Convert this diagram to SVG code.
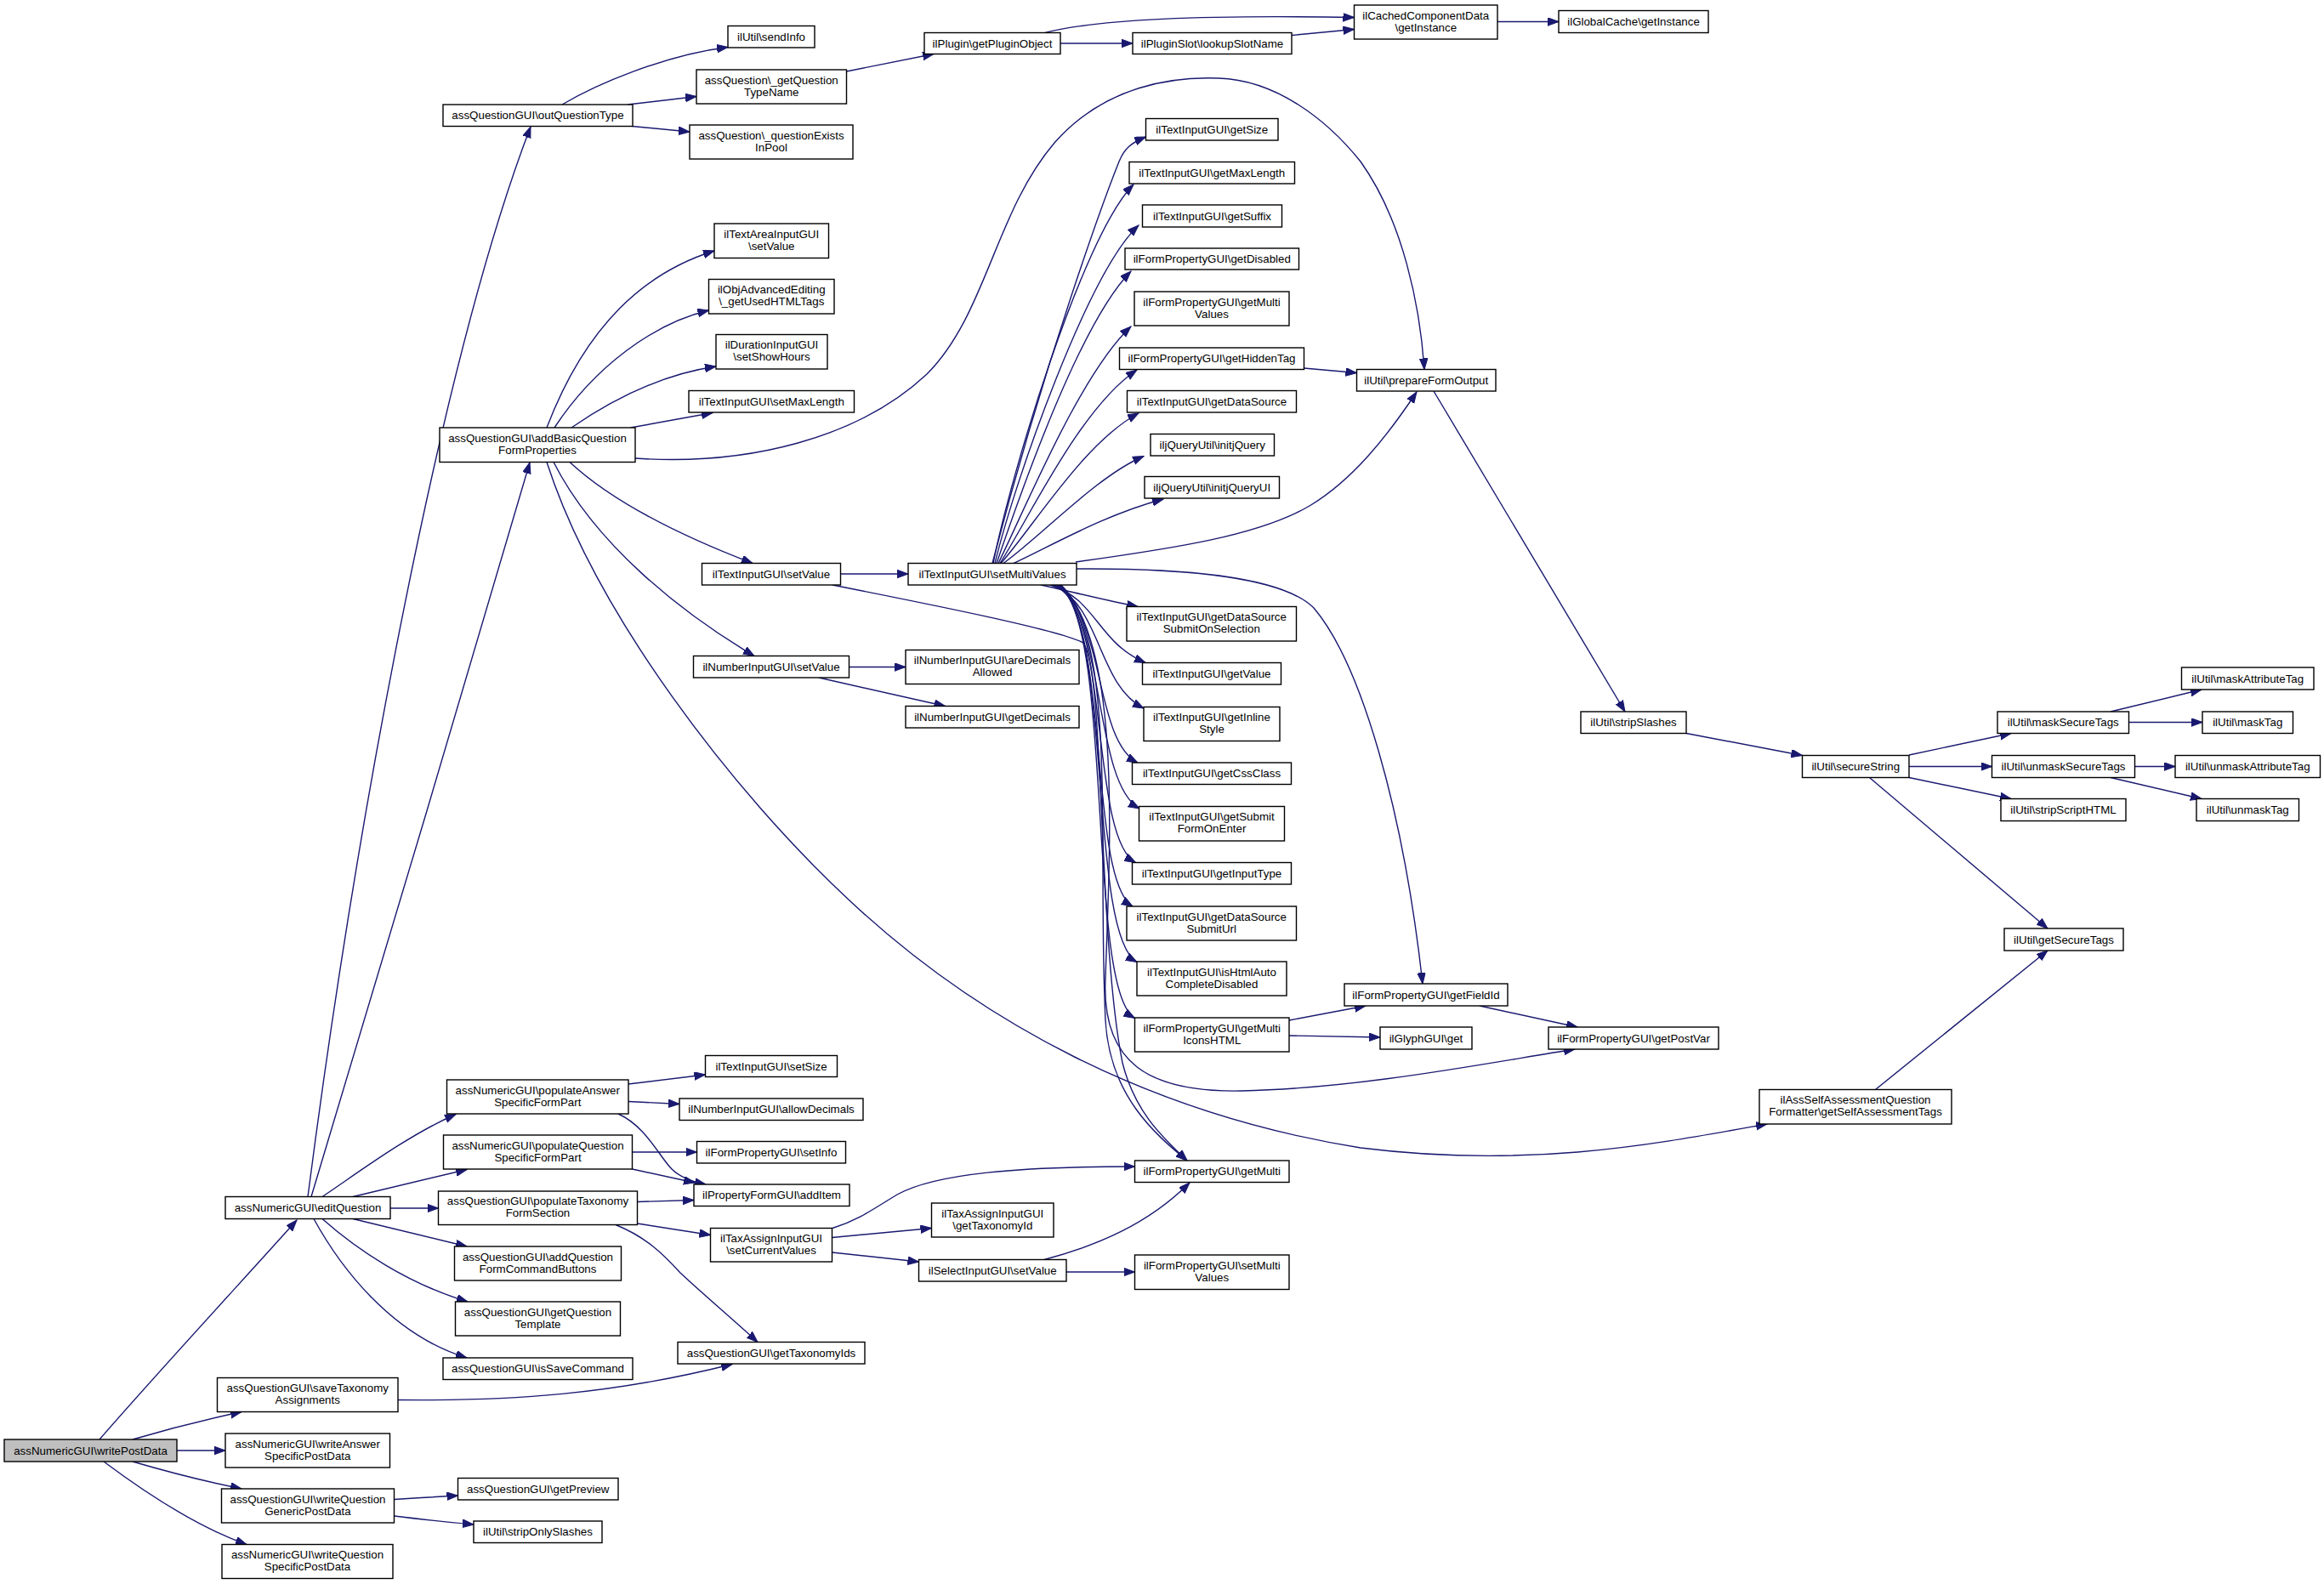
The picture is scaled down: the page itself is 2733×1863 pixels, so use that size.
<svg xmlns="http://www.w3.org/2000/svg" width="2733" height="1863" viewBox="0 0 2733 1863">
<style>
.node rect{fill:#fff;stroke:#000;stroke-width:1.4}
.root rect{fill:#bfbfbf}
.node text{font-family:"Liberation Sans",Arial,Helvetica,sans-serif;font-size:13.33px;text-anchor:middle;fill:#000}
#edges path{fill:none;stroke:#191970;stroke-width:1.4;marker-end:url(#arr)}
</style>
<defs>
<marker id="arr" markerUnits="userSpaceOnUse" markerWidth="15" markerHeight="11" refX="13" refY="4.8" orient="auto">
<path d="M0,0 L13,4.8 L0,9.6 z" fill="#191970" stroke="#191970" stroke-width="1"/>
</marker>
</defs>
<rect x="0" y="0" width="2733" height="1863" fill="#fff"/>
<g id="edges">
<path d="M117,1693 C180,1620 300,1490 349,1435"/>
<path d="M156,1693 C190,1683 240,1670 284,1660.5"/>
<path d="M208,1706 L265,1706"/>
<path d="M156,1719 C190,1729 240,1742 284,1751"/>
<path d="M122,1719 C170,1755 230,1795 290,1816.5"/>
<path d="M463.5,1763.5 C490,1762 510,1760.5 538.5,1759"/>
<path d="M463.5,1783 C495,1787 525,1790 557,1793"/>
<path d="M468,1646.5 C600,1648 720,1640 861,1604.5"/>
<path d="M362,1407.5 C420,960 520,420 624,149"/>
<path d="M366,1407.5 C420,1230 560,760 623,544"/>
<path d="M379,1407.5 C420,1380 480,1335 536,1310.5"/>
<path d="M415,1407.5 L549,1375.5"/>
<path d="M459,1421 L515.5,1421"/>
<path d="M415,1433.5 L549,1466"/>
<path d="M379,1433.5 C420,1470 480,1510 550,1531"/>
<path d="M369,1433.5 C400,1490 460,1570 549,1597"/>
<path d="M643,503 C690,380 760,320 840,295"/>
<path d="M652,503 C700,430 770,380 833.5,365"/>
<path d="M672,503 C720,470 780,440 842,431"/>
<path d="M741.5,503 L838,485.5"/>
<path d="M747,539 C880,548 1010,515 1090,440 C1160,370 1170,250 1240,168 C1300,100 1380,90 1433,92 C1500,94 1560,140 1600,190 C1650,260 1670,360 1675,434.5"/>
<path d="M670,543.5 C720,590 800,630 885,662.5"/>
<path d="M651,543.5 C700,640 800,720 887,771.5"/>
<path d="M643,543.5 C700,720 860,930 1000,1060 C1150,1200 1350,1310 1600,1350 C1800,1375 1950,1345 2078,1322"/>
<path d="M661,123 C700,100 780,65 856,55.5"/>
<path d="M738,123 L819,113.5"/>
<path d="M743.5,148.5 L811,155"/>
<path d="M995.5,84 L1098,63.5"/>
<path d="M1247,51 L1332,51"/>
<path d="M1229,38.5 C1300,20 1450,18 1592.5,20.5"/>
<path d="M1519,41.5 L1592.5,34.5"/>
<path d="M1761,25.5 L1833,25.5"/>
<path d="M988.5,675 L1068,675"/>
<path d="M979,688 C1100,712 1240,740 1272,755 C1300,770 1290,1100 1320,1250 C1335,1310 1370,1340 1396,1365"/>
<path d="M998.5,784.5 L1065,784.5"/>
<path d="M963,797 L1111.5,830.5"/>
<path d="M1167,662.5 C1230,420 1300,230 1316,190 C1322,175 1330,168 1347.5,161"/>
<path d="M1168,662.5 C1188,560 1273,277 1333,217"/>
<path d="M1170,662.5 C1195,560 1280,320 1339,265"/>
<path d="M1172,662.5 C1200,580 1270,380 1330,319"/>
<path d="M1174,662.5 C1205,600 1270,440 1330,384"/>
<path d="M1176,662.5 C1210,610 1270,480 1337,435"/>
<path d="M1177,662.5 C1215,620 1275,520 1339,486"/>
<path d="M1180,662.5 C1225,630 1290,560 1345,536.5"/>
<path d="M1192,662.5 C1240,640 1300,605 1368,587"/>
<path d="M1265,661 C1380,645 1480,630 1540,595 C1590,565 1630,515 1666,461"/>
<path d="M1224,688 C1260,696 1300,706 1338,713.5"/>
<path d="M1235,688 C1290,705 1290,755 1347,779.5"/>
<path d="M1237,688 C1295,710 1290,805 1345,833"/>
<path d="M1239,688 C1300,715 1285,870 1338,897"/>
<path d="M1241,688 C1300,720 1285,920 1340,951"/>
<path d="M1243,688 C1305,725 1282,985 1335.5,1014.5"/>
<path d="M1244,688 C1305,730 1280,1035 1332,1066"/>
<path d="M1245,688 C1308,735 1280,1100 1337,1131.5"/>
<path d="M1246,688 C1310,740 1278,1165 1334.5,1197.5"/>
<path d="M1247,688 C1315,750 1290,1000 1300,1200 C1305,1290 1360,1335 1396,1365"/>
<path d="M1248,688 C1320,760 1305,1000 1300,1150 C1295,1250 1350,1285 1460,1283 C1600,1280 1750,1250 1852,1234"/>
<path d="M1266,669 C1400,668 1510,680 1545,715 C1600,780 1650,950 1673,1157"/>
<path d="M1533.5,433 L1595.5,438.5"/>
<path d="M1686,460 L1911,837"/>
<path d="M1983,862.5 L2119.5,888.5"/>
<path d="M2245,888 L2365,862.5"/>
<path d="M2245,901.5 L2342.5,901.5"/>
<path d="M2245,914.5 L2365,939.5"/>
<path d="M2198.5,914.5 L2408,1092"/>
<path d="M2482,837 L2589,811"/>
<path d="M2503.5,849.5 L2590,849.5"/>
<path d="M2510.5,901.5 L2558,901.5"/>
<path d="M2482,914.5 L2589,939.5"/>
<path d="M2205.5,1281.5 L2408,1118"/>
<path d="M1516,1200 L1606,1183"/>
<path d="M1516,1218 L1623,1220"/>
<path d="M1740,1183 L1855,1208"/>
<path d="M739,1275 L829.5,1264"/>
<path d="M739,1295.5 L799,1298.5"/>
<path d="M727,1310 C760,1325 775,1360 790,1375 C800,1385 815,1390 830,1393"/>
<path d="M743.5,1355 L819.5,1355"/>
<path d="M743.5,1375 L817,1391"/>
<path d="M749.5,1413.5 L816,1411.5"/>
<path d="M749.5,1439 L835.5,1452.5"/>
<path d="M724,1440.5 C760,1455 780,1475 800,1497 C830,1525 860,1550 891,1578.5"/>
<path d="M978.5,1455.5 L1095.5,1444.5"/>
<path d="M978.5,1473 L1080.5,1484"/>
<path d="M979,1444.5 C1010,1435 1030,1420 1055,1405 C1100,1380 1200,1372 1334.5,1372"/>
<path d="M1228,1481.5 C1290,1465 1350,1440 1399,1391"/>
<path d="M1254,1496 L1334.5,1496"/>
</g>
<g id="node-writePostData" class="node root"><rect x="5" y="1693" width="203" height="26"/><text x="106.5" y="1710.5">assNumericGUI\writePostData</text></g>
<g id="node-editQuestion" class="node"><rect x="265" y="1407.5" width="194" height="26"/><text x="362" y="1425">assNumericGUI\editQuestion</text></g>
<g id="node-saveTaxonomyAssignments" class="node"><rect x="255.5" y="1620.5" width="212.5" height="40"/><text x="361.75" y="1637">assQuestionGUI\saveTaxonomy</text><text x="361.75" y="1651">Assignments</text></g>
<g id="node-writeAnswerSpecificPostData" class="node"><rect x="265" y="1686" width="193.5" height="40"/><text x="361.75" y="1702.5">assNumericGUI\writeAnswer</text><text x="361.75" y="1716.5">SpecificPostData</text></g>
<g id="node-writeQuestionGenericPostData" class="node"><rect x="260.5" y="1751" width="203" height="40"/><text x="362" y="1767.5">assQuestionGUI\writeQuestion</text><text x="362" y="1781.5">GenericPostData</text></g>
<g id="node-writeQuestionSpecificPostData" class="node"><rect x="261" y="1816.5" width="201" height="40"/><text x="361.5" y="1833">assNumericGUI\writeQuestion</text><text x="361.5" y="1847">SpecificPostData</text></g>
<g id="node-getPreview" class="node"><rect x="538.5" y="1738.5" width="188.5" height="25.5"/><text x="632.75" y="1755.75">assQuestionGUI\getPreview</text></g>
<g id="node-stripOnlySlashes" class="node"><rect x="557" y="1789" width="151" height="25.5"/><text x="632.5" y="1806.25">ilUtil\stripOnlySlashes</text></g>
<g id="node-outQuestionType" class="node"><rect x="521" y="123" width="223" height="25.5"/><text x="632.5" y="140.25">assQuestionGUI\outQuestionType</text></g>
<g id="node-sendInfo" class="node"><rect x="856" y="30.5" width="102" height="25.5"/><text x="907" y="47.75">ilUtil\sendInfo</text></g>
<g id="node-getQuestionTypeName" class="node"><rect x="819" y="82" width="176.5" height="40"/><text x="907.25" y="98.5">assQuestion\_getQuestion</text><text x="907.25" y="112.5">TypeName</text></g>
<g id="node-questionExistsInPool" class="node"><rect x="811" y="147" width="192" height="40"/><text x="907" y="163.5">assQuestion\_questionExists</text><text x="907" y="177.5">InPool</text></g>
<g id="node-textAreaSetValue" class="node"><rect x="840" y="263" width="134.5" height="40.5"/><text x="907.25" y="279.75">ilTextAreaInputGUI</text><text x="907.25" y="293.75">\setValue</text></g>
<g id="node-getUsedHTMLTags" class="node"><rect x="833.5" y="328.5" width="147.5" height="40.5"/><text x="907.25" y="345.25">ilObjAdvancedEditing</text><text x="907.25" y="359.25">\_getUsedHTMLTags</text></g>
<g id="node-setShowHours" class="node"><rect x="842" y="393.5" width="131" height="40.5"/><text x="907.5" y="410.25">ilDurationInputGUI</text><text x="907.5" y="424.25">\setShowHours</text></g>
<g id="node-setMaxLength" class="node"><rect x="810" y="459.5" width="194.5" height="25.5"/><text x="907.25" y="476.75">ilTextInputGUI\setMaxLength</text></g>
<g id="node-addBasicQuestionFormProperties" class="node"><rect x="517" y="503" width="230" height="40.5"/><text x="632" y="519.75">assQuestionGUI\addBasicQuestion</text><text x="632" y="533.75">FormProperties</text></g>
<g id="node-getPluginObject" class="node"><rect x="1087" y="38.5" width="160" height="25"/><text x="1167" y="55.5">ilPlugin\getPluginObject</text></g>
<g id="node-lookupSlotName" class="node"><rect x="1332" y="38.5" width="187" height="25"/><text x="1425.5" y="55.5">ilPluginSlot\lookupSlotName</text></g>
<g id="node-cachedComponentDataGetInstance" class="node"><rect x="1592.5" y="6" width="168.5" height="40"/><text x="1676.75" y="22.5">ilCachedComponentData</text><text x="1676.75" y="36.5">\getInstance</text></g>
<g id="node-globalCacheGetInstance" class="node"><rect x="1833" y="12.5" width="176" height="26"/><text x="1921" y="30">ilGlobalCache\getInstance</text></g>
<g id="node-getSize" class="node"><rect x="1347.5" y="139.5" width="155.5" height="25.5"/><text x="1425.25" y="156.75">ilTextInputGUI\getSize</text></g>
<g id="node-getMaxLength" class="node"><rect x="1328" y="190.5" width="194.5" height="25.5"/><text x="1425.25" y="207.75">ilTextInputGUI\getMaxLength</text></g>
<g id="node-getSuffix" class="node"><rect x="1343.5" y="241" width="164" height="26"/><text x="1425.5" y="258.5">ilTextInputGUI\getSuffix</text></g>
<g id="node-getDisabled" class="node"><rect x="1323" y="292" width="204.5" height="25"/><text x="1425.25" y="309">ilFormPropertyGUI\getDisabled</text></g>
<g id="node-getMultiValues" class="node"><rect x="1334" y="343" width="182" height="40"/><text x="1425" y="359.5">ilFormPropertyGUI\getMulti</text><text x="1425" y="373.5">Values</text></g>
<g id="node-getHiddenTag" class="node"><rect x="1316.5" y="409" width="217" height="25.5"/><text x="1425" y="426.25">ilFormPropertyGUI\getHiddenTag</text></g>
<g id="node-getDataSource" class="node"><rect x="1325.5" y="459.5" width="199" height="25.5"/><text x="1425" y="476.75">ilTextInputGUI\getDataSource</text></g>
<g id="node-initjQuery" class="node"><rect x="1353" y="510.5" width="145.5" height="25.5"/><text x="1425.75" y="527.75">iljQueryUtil\initjQuery</text></g>
<g id="node-initjQueryUI" class="node"><rect x="1346" y="560.5" width="158.5" height="25.5"/><text x="1425.25" y="577.75">iljQueryUtil\initjQueryUI</text></g>
<g id="node-prepareFormOutput" class="node"><rect x="1595.5" y="434.5" width="163.5" height="25.5"/><text x="1677.25" y="451.75">ilUtil\prepareFormOutput</text></g>
<g id="node-textInputSetValue" class="node"><rect x="825.5" y="662.5" width="163" height="25.5"/><text x="907" y="679.75">ilTextInputGUI\setValue</text></g>
<g id="node-textInputSetMultiValues" class="node"><rect x="1068" y="662.5" width="198" height="25.5"/><text x="1167" y="679.75">ilTextInputGUI\setMultiValues</text></g>
<g id="node-numberInputSetValue" class="node"><rect x="815.5" y="771.5" width="183" height="25.5"/><text x="907" y="788.75">ilNumberInputGUI\setValue</text></g>
<g id="node-areDecimalsAllowed" class="node"><rect x="1065" y="764.5" width="204" height="40"/><text x="1167" y="781">ilNumberInputGUI\areDecimals</text><text x="1167" y="795">Allowed</text></g>
<g id="node-getDecimals" class="node"><rect x="1065" y="830.5" width="204" height="25.5"/><text x="1167" y="847.75">ilNumberInputGUI\getDecimals</text></g>
<g id="node-getDataSourceSubmitOnSelection" class="node"><rect x="1325" y="713.5" width="199.5" height="40.5"/><text x="1424.75" y="730.25">ilTextInputGUI\getDataSource</text><text x="1424.75" y="744.25">SubmitOnSelection</text></g>
<g id="node-getValue" class="node"><rect x="1343.5" y="779.5" width="163" height="25.5"/><text x="1425" y="796.75">ilTextInputGUI\getValue</text></g>
<g id="node-getInlineStyle" class="node"><rect x="1345" y="831.5" width="160" height="40"/><text x="1425" y="848">ilTextInputGUI\getInline</text><text x="1425" y="862">Style</text></g>
<g id="node-getCssClass" class="node"><rect x="1331.5" y="897" width="187" height="25.5"/><text x="1425" y="914.25">ilTextInputGUI\getCssClass</text></g>
<g id="node-getSubmitFormOnEnter" class="node"><rect x="1339.5" y="948.5" width="171" height="40.5"/><text x="1425" y="965.25">ilTextInputGUI\getSubmit</text><text x="1425" y="979.25">FormOnEnter</text></g>
<g id="node-getInputType" class="node"><rect x="1331.5" y="1014.5" width="187" height="25.5"/><text x="1425" y="1031.75">ilTextInputGUI\getInputType</text></g>
<g id="node-getDataSourceSubmitUrl" class="node"><rect x="1325" y="1066" width="199.5" height="40"/><text x="1424.75" y="1082.5">ilTextInputGUI\getDataSource</text><text x="1424.75" y="1096.5">SubmitUrl</text></g>
<g id="node-isHtmlAutoCompleteDisabled" class="node"><rect x="1337" y="1131" width="176" height="40"/><text x="1425" y="1147.5">ilTextInputGUI\isHtmlAuto</text><text x="1425" y="1161.5">CompleteDisabled</text></g>
<g id="node-getMultiIconsHTML" class="node"><rect x="1334.5" y="1197" width="181.5" height="40"/><text x="1425.25" y="1213.5">ilFormPropertyGUI\getMulti</text><text x="1425.25" y="1227.5">IconsHTML</text></g>
<g id="node-getFieldId" class="node"><rect x="1581" y="1157" width="192" height="26"/><text x="1677" y="1174.5">ilFormPropertyGUI\getFieldId</text></g>
<g id="node-glyphGet" class="node"><rect x="1623" y="1208" width="108" height="26"/><text x="1677" y="1225.5">ilGlyphGUI\get</text></g>
<g id="node-getPostVar" class="node"><rect x="1821" y="1208" width="200" height="26"/><text x="1921" y="1225.5">ilFormPropertyGUI\getPostVar</text></g>
<g id="node-getSelfAssessmentTags" class="node"><rect x="2069" y="1281.5" width="226" height="40.5"/><text x="2182" y="1298.25">ilAssSelfAssessmentQuestion</text><text x="2182" y="1312.25">Formatter\getSelfAssessmentTags</text></g>
<g id="node-getMulti" class="node"><rect x="1334.5" y="1365" width="181.5" height="25.5"/><text x="1425.25" y="1382.25">ilFormPropertyGUI\getMulti</text></g>
<g id="node-formSetMultiValues" class="node"><rect x="1334.5" y="1476" width="181.5" height="40.5"/><text x="1425.25" y="1492.75">ilFormPropertyGUI\setMulti</text><text x="1425.25" y="1506.75">Values</text></g>
<g id="node-stripSlashes" class="node"><rect x="1859" y="837" width="124" height="25.5"/><text x="1921" y="854.25">ilUtil\stripSlashes</text></g>
<g id="node-secureString" class="node"><rect x="2119.5" y="888.5" width="125.5" height="26"/><text x="2182.25" y="906">ilUtil\secureString</text></g>
<g id="node-maskSecureTags" class="node"><rect x="2349" y="837" width="154.5" height="25.5"/><text x="2426.25" y="854.25">ilUtil\maskSecureTags</text></g>
<g id="node-unmaskSecureTags" class="node"><rect x="2342.5" y="888.5" width="168" height="26"/><text x="2426.5" y="906">ilUtil\unmaskSecureTags</text></g>
<g id="node-stripScriptHTML" class="node"><rect x="2353" y="939.5" width="147" height="26"/><text x="2426.5" y="957">ilUtil\stripScriptHTML</text></g>
<g id="node-getSecureTags" class="node"><rect x="2357" y="1092" width="140" height="26"/><text x="2427" y="1109.5">ilUtil\getSecureTags</text></g>
<g id="node-maskAttributeTag" class="node"><rect x="2565.5" y="785" width="155.5" height="26"/><text x="2643.25" y="802.5">ilUtil\maskAttributeTag</text></g>
<g id="node-maskTag" class="node"><rect x="2590" y="837" width="106.5" height="25.5"/><text x="2643.25" y="854.25">ilUtil\maskTag</text></g>
<g id="node-unmaskAttributeTag" class="node"><rect x="2558" y="888.5" width="170.5" height="26"/><text x="2643.25" y="906">ilUtil\unmaskAttributeTag</text></g>
<g id="node-unmaskTag" class="node"><rect x="2583" y="939.5" width="120.5" height="26"/><text x="2643.25" y="957">ilUtil\unmaskTag</text></g>
<g id="node-populateAnswerSpecificFormPart" class="node"><rect x="525.5" y="1270" width="213.5" height="40"/><text x="632.25" y="1286.5">assNumericGUI\populateAnswer</text><text x="632.25" y="1300.5">SpecificFormPart</text></g>
<g id="node-populateQuestionSpecificFormPart" class="node"><rect x="521.5" y="1335" width="222" height="40"/><text x="632.5" y="1351.5">assNumericGUI\populateQuestion</text><text x="632.5" y="1365.5">SpecificFormPart</text></g>
<g id="node-populateTaxonomyFormSection" class="node"><rect x="515.5" y="1401" width="234" height="39.5"/><text x="632.5" y="1417.25">assQuestionGUI\populateTaxonomy</text><text x="632.5" y="1431.25">FormSection</text></g>
<g id="node-addQuestionFormCommandButtons" class="node"><rect x="534.5" y="1466" width="196" height="40"/><text x="632.5" y="1482.5">assQuestionGUI\addQuestion</text><text x="632.5" y="1496.5">FormCommandButtons</text></g>
<g id="node-getQuestionTemplate" class="node"><rect x="535.5" y="1531" width="194" height="40"/><text x="632.5" y="1547.5">assQuestionGUI\getQuestion</text><text x="632.5" y="1561.5">Template</text></g>
<g id="node-isSaveCommand" class="node"><rect x="521" y="1597" width="223" height="25.5"/><text x="632.5" y="1614.25">assQuestionGUI\isSaveCommand</text></g>
<g id="node-setSize" class="node"><rect x="829.5" y="1241.5" width="155" height="25"/><text x="907" y="1258.5">ilTextInputGUI\setSize</text></g>
<g id="node-allowDecimals" class="node"><rect x="799" y="1292" width="216" height="25.5"/><text x="907" y="1309.25">ilNumberInputGUI\allowDecimals</text></g>
<g id="node-setInfo" class="node"><rect x="819.5" y="1342.5" width="175" height="25.5"/><text x="907" y="1359.75">ilFormPropertyGUI\setInfo</text></g>
<g id="node-addItem" class="node"><rect x="816" y="1393" width="183" height="25.5"/><text x="907.5" y="1410.25">ilPropertyFormGUI\addItem</text></g>
<g id="node-setCurrentValues" class="node"><rect x="835.5" y="1444.5" width="143" height="39.5"/><text x="907" y="1460.75">ilTaxAssignInputGUI</text><text x="907" y="1474.75">\setCurrentValues</text></g>
<g id="node-getTaxonomyId" class="node"><rect x="1095.5" y="1415" width="143.5" height="40"/><text x="1167.25" y="1431.5">ilTaxAssignInputGUI</text><text x="1167.25" y="1445.5">\getTaxonomyId</text></g>
<g id="node-selectInputSetValue" class="node"><rect x="1080.5" y="1481.5" width="173.5" height="25.5"/><text x="1167.25" y="1498.75">ilSelectInputGUI\setValue</text></g>
<g id="node-getTaxonomyIds" class="node"><rect x="797" y="1578.5" width="220" height="25.5"/><text x="907" y="1595.75">assQuestionGUI\getTaxonomyIds</text></g>
</svg>
